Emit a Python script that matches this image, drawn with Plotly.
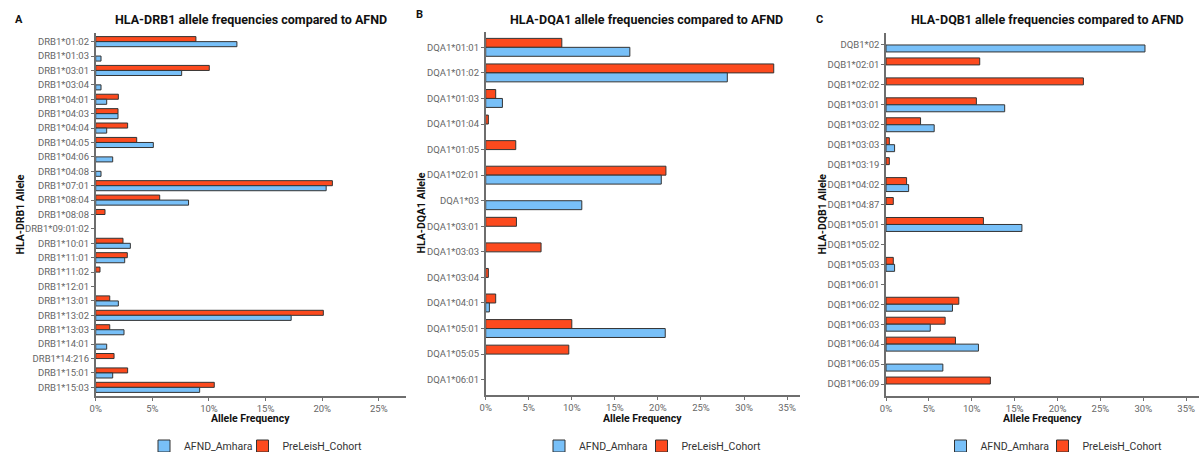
import plotly.graph_objects as go

# ---------------- data ----------------
drb1_alleles = ["DRB1*01:02", "DRB1*01:03", "DRB1*03:01", "DRB1*03:04", "DRB1*04:01",
                "DRB1*04:03", "DRB1*04:04", "DRB1*04:05", "DRB1*04:06", "DRB1*04:08",
                "DRB1*07:01", "DRB1*08:04", "DRB1*08:08", "DRB1*09:01:02", "DRB1*10:01",
                "DRB1*11:01", "DRB1*11:02", "DRB1*12:01", "DRB1*13:01", "DRB1*13:02",
                "DRB1*13:03", "DRB1*14:01", "DRB1*14:216", "DRB1*15:01", "DRB1*15:03"]
drb1_afnd = [12.47, 0.47, 7.59, 0.47, 0.97, 1.97, 0.97, 5.09, 1.5, 0.47,
             20.35, 8.2, None, None, 3.06, 2.56, None, None, 2.0, 17.26,
             2.5, 0.97, None, 1.5, 9.18]
drb1_cohort = [8.85, None, 10.03, None, 2.0, 1.97, 2.82, 3.62, None, None,
               20.9, 5.65, 0.82, None, 2.41, 2.79, 0.38, None, 1.24, 20.1,
               1.24, None, 1.62, 2.82, 10.47]

dqa1_alleles = ["DQA1*01:01", "DQA1*01:02", "DQA1*01:03", "DQA1*01:04", "DQA1*01:05",
                "DQA1*02:01", "DQA1*03", "DQA1*03:01", "DQA1*03:03", "DQA1*03:04",
                "DQA1*04:01", "DQA1*05:01", "DQA1*05:05", "DQA1*06:01"]
dqa1_afnd = [16.74, 28.06, 1.94, None, None, 20.39, 11.16, None, None, None,
             0.43, 20.85, None, None]
dqa1_cohort = [8.84, 33.45, 1.16, 0.31, 3.49, 20.93, None, 3.57, 6.43, 0.31,
               1.16, 10.0, 9.65, None]

dqb1_alleles = ["DQB1*02", "DQB1*02:01", "DQB1*02:02", "DQB1*03:01", "DQB1*03:02",
                "DQB1*03:03", "DQB1*03:19", "DQB1*04:02", "DQB1*04:87", "DQB1*05:01",
                "DQB1*05:02", "DQB1*05:03", "DQB1*06:01", "DQB1*06:02", "DQB1*06:03",
                "DQB1*06:04", "DQB1*06:05", "DQB1*06:09"]
dqb1_afnd = [30.2, None, None, 13.84, 5.62, 1.0, None, 2.64, None, 15.85,
             None, 1.0, None, 7.75, 5.16, 10.78, 6.63, None]
dqb1_cohort = [None, 10.93, 23.02, 10.54, 4.03, 0.39, 0.39, 2.4, 0.85, 11.36,
               None, 0.85, None, 8.49, 6.9, 8.1, None, 12.17]

series_names = ["AFND_Amhara", "PreLeisH_Cohort"]
panel_titles = ["HLA-DRB1 allele frequencies compared to AFND",
                "HLA-DQA1 allele frequencies compared to AFND",
                "HLA-DQB1 allele frequencies compared to AFND"]
y_titles = ["HLA-DRB1 Allele", "HLA-DQA1 Allele", "HLA-DQB1 Allele"]
panel_letters = ["A", "B", "C"]
x_ticks = [0, 5, 10, 15, 20, 25, 30, 35]
x_tick_labels = ["0%", "5%", "10%", "15%", "20%", "25%", "30%", "35%"]

# ---------------- styling ----------------
W, H = 1200, 452
BLUE = "#78C0F8"
RED = "#FC4A1E"
EDGE = "#333333"
AXIS = "#6E6E6E"
TICKCOL = "#666666"
FONT = "Roboto"

panels = [
    dict(cats=drb1_alleles, afnd=drb1_afnd, coh=drb1_cohort,
         px=(95.7, 406), py=(33, 396), xmax=27.4, leg_x=(201, 305)),
    dict(cats=dqa1_alleles, afnd=dqa1_afnd, coh=dqa1_cohort,
         px=(485.7, 800), py=(32, 395), xmax=36.5, leg_x=(596, 704)),
    dict(cats=dqb1_alleles, afnd=dqb1_afnd, coh=dqb1_cohort,
         px=(886, 1199), py=(33, 396), xmax=36.5, leg_x=(997.5, 1105)),
]

fig = go.Figure()
annotations = []
layout_axes = {}

for i, p in enumerate(panels):
    sfx = "" if i == 0 else str(i + 1)
    xa, ya = "x" + sfx, "y" + sfx
    leg_afnd = "legend" if i == 0 else "legend" + str(2 * i + 1)
    leg_coh = "legend" + str(2 * i + 2)
    # cohort first so it sits above (axis reversed)
    fig.add_trace(go.Bar(
        y=p["cats"], x=p["coh"], orientation="h", name=series_names[1],
        marker=dict(color=RED, line=dict(color=EDGE, width=1)),
        xaxis=xa, yaxis=ya, legend=leg_coh,
        hovertemplate="%{y}: %{x:.2f}%<extra>" + series_names[1] + "</extra>"))
    fig.add_trace(go.Bar(
        y=p["cats"], x=p["afnd"], orientation="h", name=series_names[0],
        marker=dict(color=BLUE, line=dict(color=EDGE, width=1)),
        xaxis=xa, yaxis=ya, legend=leg_afnd,
        hovertemplate="%{y}: %{x:.2f}%<extra>" + series_names[0] + "</extra>"))

    x0, x1 = p["px"]
    y0, y1 = p["py"]
    n = len(p["cats"])
    tv = [t for t in x_ticks if t <= p["xmax"]]
    layout_axes["xaxis" + sfx] = dict(
        domain=[x0 / W, x1 / W], anchor=ya, range=[0, p["xmax"]],
        tickmode="array", tickvals=tv, ticktext=x_tick_labels[:len(tv)],
        showgrid=False, zeroline=False, automargin=False,
        showline=True, linecolor=AXIS, linewidth=1.5,
        ticks="outside", ticklen=3, tickcolor=AXIS, tickwidth=1,
        tickfont=dict(family=FONT, size=9.5, color=TICKCOL))
    layout_axes["yaxis" + sfx] = dict(
        domain=[1 - y1 / H, 1 - y0 / H], anchor=xa, type="category",
        categoryorder="array", categoryarray=p["cats"], automargin=False,
        range=[n - 1 + 0.6, -0.6], showgrid=False, zeroline=False,
        showline=True, linecolor=AXIS, linewidth=1.5,
        ticks="outside", ticklen=3, tickcolor=AXIS, tickwidth=1,
        tickfont=dict(family=FONT, size=9.5, color=TICKCOL))

    xc = (x0 + x1) / 2 / W
    # panel title
    annotations.append(dict(text="<b>" + panel_titles[i] + "</b>", x=[251, 646, 1047.5][i] / W,
                            y=1 - 20 / H, xref="paper", yref="paper", showarrow=False,
                            xanchor="center", yanchor="middle",
                            font=dict(family=FONT, size=12.5, color="#111111")))
    # panel letter
    annotations.append(dict(text="<b>" + panel_letters[i] + "</b>",
                            x=[19, 419, 819][i] / W, y=1 - [20, 15, 20][i] / H,
                            xref="paper", yref="paper", showarrow=False,
                            xanchor="center", yanchor="middle",
                            font=dict(family=FONT, size=11, color="#111111")))
    # x title
    annotations.append(dict(text="<b>Allele Frequency</b>", x=xc, y=1 - 418 / H,
                            xref="paper", yref="paper", showarrow=False,
                            xanchor="center", yanchor="middle",
                            font=dict(family=FONT, size=10.5, color="#111111")))
    # y title
    annotations.append(dict(text="<b>" + y_titles[i] + "</b>", x=[20, 421, 822][i] / W,
                            y=1 - ((y0 + y1) / 2) / H, xref="paper", yref="paper",
                            showarrow=False, textangle=-90,
                            xanchor="center", yanchor="middle",
                            font=dict(family=FONT, size=10.5, color="#111111")))
    for leg, lx in ((leg_afnd, p["leg_x"][0]), (leg_coh, p["leg_x"][1])):
        layout_axes[leg] = dict(
            orientation="h", x=lx / W, xanchor="center",
            y=1 - 446 / H, yanchor="middle",
            font=dict(family=FONT, size=10.5, color="#333333"),
            bgcolor="rgba(0,0,0,0)", itemwidth=30)

fig.update_layout(
    width=W, height=H, margin=dict(l=0, r=0, t=0, b=0, autoexpand=False),
    paper_bgcolor="white", plot_bgcolor="white",
    barmode="group", bargap=0.3, bargroupgap=0,
    showlegend=True, annotations=annotations,
    font=dict(family=FONT), **layout_axes)

fig.write_html("out.html", config={"displayModeBar": False},
               post_script="document.body.style.margin='0';document.body.style.padding='0';")
